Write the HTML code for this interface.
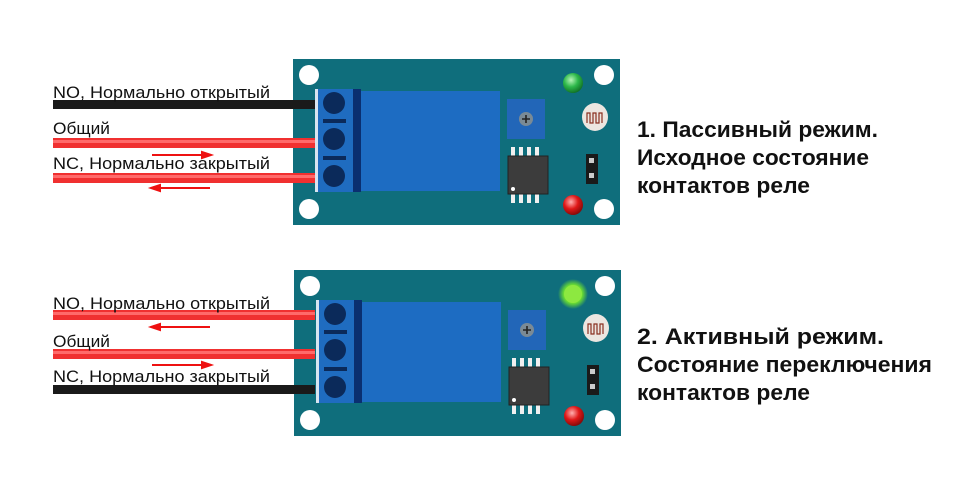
<!DOCTYPE html>
<html><head><meta charset="utf-8"><style>
html,body{margin:0;padding:0;background:#fff;}
svg{display:block;}
text{font-family:"Liberation Sans",Arial,sans-serif;}
</style></head><body>
<svg width="970" height="500" viewBox="0 0 970 500" xmlns="http://www.w3.org/2000/svg">
<defs>
<radialGradient id="gl" cx="0.4" cy="0.35" r="0.7"><stop offset="0" stop-color="#b8f5b8"/><stop offset="0.5" stop-color="#2db84a"/><stop offset="1" stop-color="#0e6a22"/></radialGradient>
<radialGradient id="rl" cx="0.4" cy="0.35" r="0.7"><stop offset="0" stop-color="#ffb0b0"/><stop offset="0.5" stop-color="#e01818"/><stop offset="1" stop-color="#7a0808"/></radialGradient>
<radialGradient id="gon" cx="0.5" cy="0.5" r="0.5"><stop offset="0" stop-color="#a8ff60"/><stop offset="0.6" stop-color="#6de030"/><stop offset="1" stop-color="#6de030" stop-opacity="0"/></radialGradient>
<g id="board">
  <rect x="0" y="0" width="327" height="166" fill="#0f6e7c"/>
  <circle cx="16" cy="16" r="10" fill="#fff"/><circle cx="311" cy="16" r="10" fill="#fff"/>
  <circle cx="16" cy="150" r="10" fill="#fff"/><circle cx="311" cy="150" r="10" fill="#fff"/>
  <rect x="22" y="30" width="3" height="103" fill="#d8e4f0"/>
  <rect x="25" y="30" width="42" height="103" fill="#1f6cc0"/>
  <rect x="60" y="30" width="8" height="103" fill="#0a2f70"/>
  <circle cx="41" cy="44" r="11" fill="#0b2a5a"/><circle cx="41" cy="80" r="11" fill="#0b2a5a"/><circle cx="41" cy="117" r="11" fill="#0b2a5a"/>
  <rect x="30" y="60" width="23" height="4" fill="#0b2a5a"/><rect x="30" y="97" width="23" height="4" fill="#0b2a5a"/>
  <rect x="68" y="32" width="139" height="100" fill="#1d6cc2"/>
  <rect x="214" y="40" width="38" height="40" fill="#2266b8"/>
  <circle cx="233" cy="60" r="7" fill="#7a8a95"/><path d="M229 60h8M233 56v8" stroke="#222" stroke-width="1.6"/>
  <g fill="#f0f0f0"><rect x="218" y="88" width="4" height="10"/><rect x="226" y="88" width="4" height="10"/><rect x="234" y="88" width="4" height="10"/><rect x="242" y="88" width="4" height="10"/>
  <rect x="218" y="134" width="4" height="10"/><rect x="226" y="134" width="4" height="10"/><rect x="234" y="134" width="4" height="10"/><rect x="242" y="134" width="4" height="10"/></g>
  <rect x="215" y="97" width="40" height="38" fill="#3c3c3c" stroke="#222"/>
  <circle cx="220" cy="130" r="2" fill="#fff"/>
  <ellipse cx="302" cy="58" rx="13" ry="14" fill="#ece6e0"/>
  <path d="M294 64v-10h3v10h3v-10h3v10h3v-10h3v10" fill="none" stroke="#8a3020" stroke-width="1.2"/>
  <rect x="293" y="95" width="12" height="30" fill="#1a1a1a"/>
  <rect x="296" y="99" width="5" height="5" fill="#ccc"/><rect x="296" y="114" width="5" height="5" fill="#ccc"/>
  <circle cx="280" cy="146" r="10" fill="url(#rl)"/>
</g>
</defs>

<use href="#board" x="293" y="59"/>
<circle cx="573" cy="83" r="10" fill="url(#gl)"/>
<use href="#board" x="294" y="270"/>
<circle cx="573" cy="294" r="15" fill="url(#gon)"/>
<circle cx="573" cy="294" r="9" fill="#8de840"/>

<rect x="53" y="100" width="262" height="9" fill="#1a1a1a"/>
<rect x="53" y="138" width="262" height="10" fill="#f03030"/>
<rect x="53" y="140" width="262" height="3" fill="#ff6a6a"/>
<rect x="53" y="173" width="262" height="10" fill="#f03030"/>
<rect x="53" y="175" width="262" height="3" fill="#ff6a6a"/>
<rect x="53" y="310" width="262" height="10" fill="#f03030"/>
<rect x="53" y="312" width="262" height="3" fill="#ff6a6a"/>
<rect x="53" y="349" width="262" height="10" fill="#f03030"/>
<rect x="53" y="351" width="262" height="3" fill="#ff6a6a"/>
<rect x="53" y="385" width="262" height="9" fill="#1a1a1a"/>

<g stroke="#ee1111" stroke-width="2" fill="#ee1111">
<line x1="152" y1="155" x2="203" y2="155"/><path d="M211 155l-9-3v6z"/>
<line x1="159" y1="188" x2="210" y2="188"/><path d="M151 188l9-3v6z"/>
<line x1="159" y1="327" x2="210" y2="327"/><path d="M151 327l9-3v6z"/>
<line x1="152" y1="365" x2="203" y2="365"/><path d="M211 365l-9-3v6z"/>
</g>

<g font-size="17" fill="#111">
<text x="53" y="98" textLength="217" lengthAdjust="spacingAndGlyphs">NO, Нормально открытый</text>
<text x="53" y="134" textLength="57" lengthAdjust="spacingAndGlyphs">Общий</text>
<text x="53" y="169" textLength="217" lengthAdjust="spacingAndGlyphs">NC, Нормально закрытый</text>
<text x="53" y="309" textLength="217" lengthAdjust="spacingAndGlyphs">NO, Нормально открытый</text>
<text x="53" y="347" textLength="57" lengthAdjust="spacingAndGlyphs">Общий</text>
<text x="53" y="382" textLength="217" lengthAdjust="spacingAndGlyphs">NC, Нормально закрытый</text>
</g>

<g font-size="22" font-weight="bold" fill="#111">
<text x="637" y="137" textLength="241" lengthAdjust="spacingAndGlyphs">1. Пассивный режим.</text>
<text x="637" y="165" textLength="232" lengthAdjust="spacingAndGlyphs">Исходное состояние</text>
<text x="637" y="193" textLength="173" lengthAdjust="spacingAndGlyphs">контактов реле</text>
<text x="637" y="344" textLength="247" lengthAdjust="spacingAndGlyphs">2. Активный режим.</text>
<text x="637" y="372" textLength="295" lengthAdjust="spacingAndGlyphs">Состояние переключения</text>
<text x="637" y="400" textLength="173" lengthAdjust="spacingAndGlyphs">контактов реле</text>
</g>
</svg>
</body></html>
